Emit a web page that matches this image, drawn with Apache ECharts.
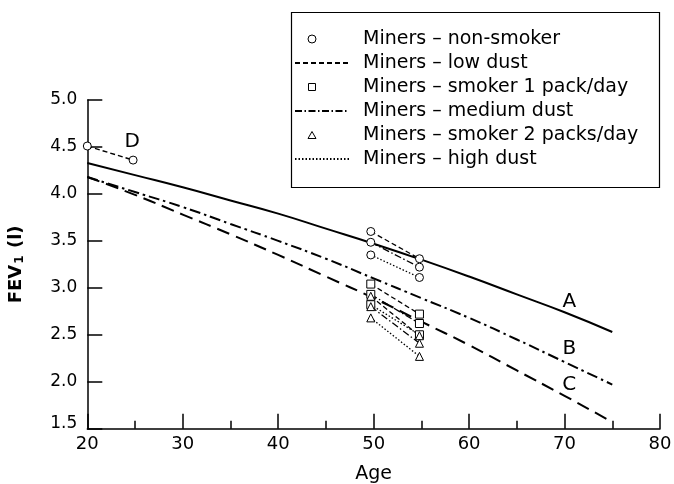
<!DOCTYPE html>
<html><head><meta charset="utf-8">
<script src="https://cdn.jsdelivr.net/npm/echarts@6/dist/echarts.min.js"></script>
<style>html,body{margin:0;padding:0;background:#fff}#c{width:674px;height:484px}</style>
</head><body><div id="c"></div>
<script>
// ---- data ----
const ages   = [20, 25, 30, 35, 40, 45, 50, 55, 60, 65, 70, 75];
const curveA = [4.33, 4.20, 4.07, 3.93, 3.79, 3.63, 3.47, 3.30, 3.12, 2.93, 2.74, 2.53];
const curveB = [4.18, 4.02, 3.86, 3.68, 3.50, 3.31, 3.10, 2.89, 2.68, 2.45, 2.21, 1.97];
const curveC = [4.18, 3.99, 3.78, 3.57, 3.35, 3.12, 2.89, 2.64, 2.39, 2.12, 1.85, 1.57];

const visitAges = [49.7, 54.8];
// order of each list: low dust, medium dust, high dust
const nonSmokerAt50 = [3.60, 3.485, 3.35];
const nonSmokerAt55 = [3.31, 3.22, 3.11];
const smoker1At50   = [3.04, 2.93, 2.82];
const smoker1At55   = [2.72, 2.62, 2.50];
const smoker2At50   = [2.91, 2.80, 2.68];
const smoker2At55   = [2.49, 2.41, 2.27];

const dAges   = [20, 24.8];
const dValues = [4.51, 4.36];

const curveLabels = ['A', 'B', 'C', 'D'];
const labelAges   = [70.5, 70.5, 70.5, 24.7];
const labelValues = [2.85, 2.35, 1.97, 4.56];

const legendNames = ['Miners – non-smoker', 'Miners – low dust', 'Miners – smoker 1 pack/day',
                     'Miners – medium dust', 'Miners – smoker 2 packs/day', 'Miners – high dust'];

// ---- styles ----
const FONT = 'DejaVu Sans';
const INK = '#000';
const dustNames  = ['Miners – low dust', 'Miners – medium dust', 'Miners – high dust'];
const dustDashes = [[5, 3], [7, 2.5, 1.5, 2.5], [1.5, 2]];

const groups = [
  { name: 'Miners – non-smoker', symbol: 'circle', at50: nonSmokerAt50, at55: nonSmokerAt55,
    icon: 'path://M0,0M54,8M13,4a4,4 0 1,0 8,0a4,4 0 1,0 -8,0z' },
  { name: 'Miners – smoker 1 pack/day', symbol: 'rect', at50: smoker1At50, at55: smoker1At55,
    icon: 'path://M0,0M54,8M13.5,0.5h7v7h-7z' },
  { name: 'Miners – smoker 2 packs/day', symbol: 'triangle', at50: smoker2At50, at55: smoker2At55,
    icon: 'path://M0,0M54,8M17,0.5L21,7.5H13z' }
];

const series = [];
function curve(name, vals, dash) {
  series.push({
    type: 'line', name: name, smooth: true, symbol: 'none', clip: false, z: 2,
    data: ages.map((a, i) => [a, vals[i]]),
    lineStyle: { color: INK, width: 2, type: dash }
  });
}
curve('A', curveA, 'solid');
curve('B', curveB, [11, 4, 2.5, 4]);
curve('C', curveC, [13, 7]);

series.push({
  type: 'line', name: 'D', clip: false, z: 4,
  data: dAges.map((a, i) => [a, dValues[i]]),
  symbol: 'circle', symbolSize: 8,
  itemStyle: { color: '#fff', borderColor: INK, borderWidth: 1 },
  lineStyle: { color: INK, width: 1.4, type: [5, 3] }
});

groups.forEach(g => {
  dustNames.forEach((dn, j) => {
    series.push({
      type: 'line', name: dn, symbol: 'none', clip: false, z: 3,
      data: [[visitAges[0], g.at50[j]], [visitAges[1], g.at55[j]]],
      itemStyle: { color: INK },
      lineStyle: { color: INK, width: 1.3, type: dustDashes[j] }
    });
  });
});
groups.forEach(g => {
  const pts = [];
  g.at50.forEach(v => pts.push([visitAges[0], v]));
  g.at55.forEach(v => pts.push([visitAges[1], v]));
  series.push({
    type: 'scatter', name: g.name, symbol: g.symbol, symbolSize: 8, symbolKeepAspect: true,
    clip: false, z: 5,
    data: pts,
    itemStyle: { color: '#fff', borderColor: INK, borderWidth: 1, opacity: 1 }
  });
});

series.push({
  type: 'scatter', name: 'labels', symbolSize: 0, z: 6, silent: true,
  itemStyle: { opacity: 1 },
  data: curveLabels.map((t, i) => ({ name: t, value: [labelAges[i], labelValues[i]] })),
  label: { show: true, position: 'inside', formatter: '{b}', fontSize: 20, fontFamily: FONT, color: INK, opacity: 1 }
});

const legendData = legendNames.map(n => {
  const g = groups.find(x => x.name === n);
  if (g) return { name: n, icon: g.icon, itemStyle: { color: '#fff', borderColor: INK, borderWidth: 1 } };
  return { name: n, itemStyle: { opacity: 0 } };
});

const chart = echarts.init(document.getElementById('c'), null, { renderer: 'canvas' });
chart.setOption({
  animation: false,
  backgroundColor: '#fff',
  grid: { left: 87.3, right: 14, top: 100, bottom: 55.3, outerBoundsMode: 'none' },
  xAxis: {
    type: 'value', min: 20, max: 80, interval: 10,
    axisLine: { show: true, lineStyle: { color: INK, width: 1.5 } },
    axisTick: { show: true, inside: true, length: 15, lineStyle: { color: INK, width: 1.5 } },
    minorTick: { show: true, splitNumber: 2, length: 8, lineStyle: { color: INK, width: 1.5 } },
    splitLine: { show: false },
    axisLabel: { fontSize: 18, fontFamily: FONT, color: INK, margin: 7 },
    name: 'Age', nameLocation: 'middle', nameGap: 36,
    nameTextStyle: { fontSize: 19, fontFamily: FONT, color: INK }
  },
  yAxis: {
    type: 'value', min: 1.5, max: 5.0, interval: 0.5,
    axisLine: { show: true, lineStyle: { color: INK, width: 1.5 } },
    axisTick: { show: true, inside: true, length: 15, lineStyle: { color: INK, width: 1.5 } },
    splitLine: { show: false },
    axisLabel: {
      fontSize: 17, fontFamily: FONT, color: INK, margin: 10,
      formatter: v => (v === 1.5 ? '{r|1.5}' : v.toFixed(1)),
      rich: { r: { fontSize: 17, fontFamily: FONT, color: INK, padding: [0, 0, 10, 0] } }
    },
    name: 'FEV{s|1} (l)', nameLocation: 'middle', nameGap: 61, nameRotate: 90,
    nameTextStyle: {
      fontSize: 18, fontWeight: 'bold', fontFamily: FONT, color: INK,
      rich: { s: { fontSize: 12, fontWeight: 'bold', fontFamily: FONT, color: INK, padding: [8, 1, 0, 1] } }
    }
  },
  legend: {
    orient: 'vertical', left: 294, top: 27, padding: 0, itemGap: 0,
    itemWidth: 54, itemHeight: 8, selectedMode: false, symbolKeepAspect: true,
    data: legendData,
    textStyle: { fontSize: 19, fontFamily: FONT, color: INK, lineHeight: 24, padding: [0, 0, 0, 9] }
  },
  graphic: [{
    type: 'rect', silent: true, z: 100,
    shape: { x: 291.5, y: 12.5, width: 368, height: 175 },
    style: { fill: null, stroke: INK, lineWidth: 1.2 }
  }],
  series: series
});
</script></body></html>
